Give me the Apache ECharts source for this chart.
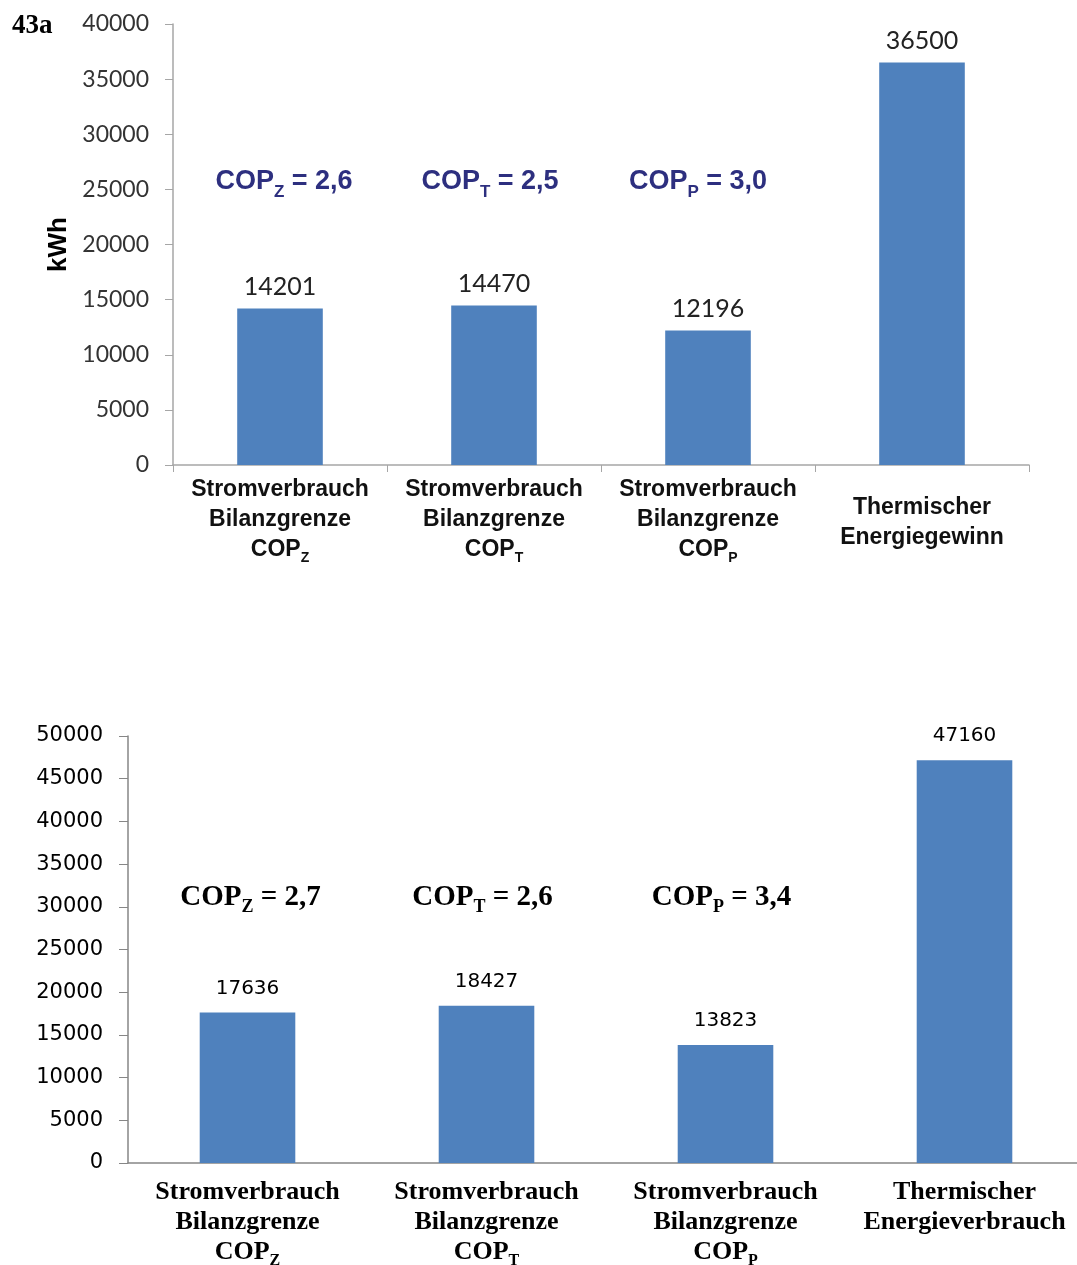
<!DOCTYPE html>
<html>
<head>
<meta charset="utf-8">
<script src="https://cdn.jsdelivr.net/npm/echarts@6/dist/echarts.min.js"></script>
<style>
  html, body { margin: 0; padding: 0; background: #fff; }
  #main { width: 1077px; height: 1265px; }
</style>
</head>
<body>
<div id="main"></div>
<script>
var chart = echarts.init(document.getElementById('main'));

// data
var subs = ['Z', 'T', 'P'];
var topValues = [14201, 14470, 12196, 36500];
var topLast = ['Thermischer', 'Energiegewinn'];
var topCop = ['2,6', '2,5', '3,0'];
var topCopLevel = 25700;
var topTicks = { min: 0, max: 40000, interval: 5000 };

var botValues = [17636, 18427, 13823, 47160];
var botLast = ['Thermischer', 'Energieverbrauch'];
var botCop = ['2,7', '2,6', '3,4'];
var botCopLevel = 31100;
var botTicks = { min: 0, max: 50000, interval: 5000 };

var cats = ['c0', 'c1', 'c2', 'c3'];

// small horizontal nudges of the COP notes (px)
var topCopShift = [4, -4, -10];
var botCopShift = [3, -4, -4];

var navy = '#2d2f7f';
var barColor = '#4f81bd';

function catLabel(last, tall) {
    return function (v, i) {
        if (i < 3) {
            return '{b|Stromverbrauch}\n{b|Bilanzgrenze}\n{b|COP}{s|' + subs[i] + '}';
        }
        return (tall ? '{g| }\n' : '') + '{b|' + last[0] + '}\n{b|' + last[1] + '}';
    };
}

function copPoints(vals, level, shift) {
    return vals.map(function (v, i) {
        return { coord: [cats[i], level], value: v, sub: subs[i], label: { offset: [shift[i], 0] } };
    });
}

function plain(v) { return String(v); }

var option = {
    animation: false,
    grid: [
        { left: 173, top: 24, width: 856, height: 441, outerBoundsMode: 'none' },
        { left: 128, top: 736, width: 956, height: 427, outerBoundsMode: 'none' }
    ],
    graphic: [{
        type: 'text', left: 12, top: 13,
        style: { text: '43a', font: 'bold 27px "Liberation Serif"', fill: '#000' }
    }],
    xAxis: [{
        gridIndex: 0, type: 'category', data: cats,
        axisLine: { lineStyle: { color: '#a6a6a6', width: 1.5 } },
        axisTick: { show: true, length: 7, lineStyle: { color: '#a6a6a6' } },
        axisLabel: {
            margin: 10, interval: 0,
            formatter: catLabel(topLast, true),
            rich: {
                b: { fontFamily: '"Liberation Sans"', fontWeight: 'bold', fontSize: 23, lineHeight: 30, color: '#111' },
                g: { fontSize: 2, lineHeight: 18 },
                s: { fontFamily: '"Liberation Sans"', fontWeight: 'bold', fontSize: 14, lineHeight: 14, color: '#111', verticalAlign: 'top', padding: [16, 0, 0, 0] }
            }
        }
    }, {
        gridIndex: 1, type: 'category', data: cats,
        axisLine: { lineStyle: { color: '#868686', width: 1.5 } },
        axisTick: { show: false },
        axisLabel: {
            margin: 14, interval: 0,
            formatter: catLabel(botLast, false),
            rich: {
                b: { fontFamily: '"Liberation Serif"', fontWeight: 'bold', fontSize: 26, lineHeight: 30, color: '#000' },
                s: { fontFamily: '"Liberation Serif"', fontWeight: 'bold', fontSize: 16, lineHeight: 16, color: '#000', verticalAlign: 'top', padding: [16, 0, 0, 0] }
            }
        }
    }],
    yAxis: [{
        gridIndex: 0, type: 'value',
        min: topTicks.min, max: topTicks.max, interval: topTicks.interval,
        name: 'kWh', nameLocation: 'middle', nameRotate: 90, nameGap: 96,
        nameTextStyle: { fontFamily: '"Liberation Sans"', fontWeight: 'bold', fontSize: 26, color: '#000' },
        splitLine: { show: false },
        axisLine: { show: true, lineStyle: { color: '#a6a6a6', width: 1.5 } },
        axisTick: { show: true, length: 8, lineStyle: { color: '#a6a6a6' } },
        axisLabel: { margin: 24, fontFamily: 'Lato', fontSize: 23, color: '#333', formatter: plain }
    }, {
        gridIndex: 1, type: 'value',
        min: botTicks.min, max: botTicks.max, interval: botTicks.interval,
        splitLine: { show: false },
        axisLine: { show: true, lineStyle: { color: '#868686', width: 1.5 } },
        axisTick: { show: true, length: 9, lineStyle: { color: '#868686' } },
        axisLabel: { margin: 25, fontFamily: '"DejaVu Sans"', fontSize: 21, color: '#000', formatter: plain }
    }],
    series: [{
        type: 'bar', xAxisIndex: 0, yAxisIndex: 0,
        data: topValues, barWidth: '40%',
        itemStyle: { color: barColor },
        label: { show: true, position: 'top', distance: 9, fontFamily: 'Lato', fontSize: 25, color: '#222' },
        markPoint: {
            symbol: 'circle', symbolSize: 0,
            data: copPoints(topCop, topCopLevel, topCopShift),
            label: {
                show: true, position: 'inside',
                formatter: function (p) { return '{a|COP}{s|' + p.data.sub + '}{a| = ' + p.data.value + '}'; },
                rich: {
                    a: { fontFamily: '"Liberation Sans"', fontWeight: 'bold', fontSize: 27, lineHeight: 30, color: navy },
                    s: { fontFamily: '"Liberation Sans"', fontWeight: 'bold', fontSize: 17, lineHeight: 17, color: navy, verticalAlign: 'top', padding: [17, 0, 0, 0] }
                }
            }
        }
    }, {
        type: 'bar', xAxisIndex: 1, yAxisIndex: 1,
        data: botValues, barWidth: '40%',
        itemStyle: { color: barColor },
        label: { show: true, position: 'top', distance: 14, fontFamily: '"DejaVu Sans"', fontSize: 20, color: '#000' },
        markPoint: {
            symbol: 'circle', symbolSize: 0,
            data: copPoints(botCop, botCopLevel, botCopShift),
            label: {
                show: true, position: 'inside',
                formatter: function (p) { return '{a|COP}{s|' + p.data.sub + '}{a| = ' + p.data.value + '}'; },
                rich: {
                    a: { fontFamily: '"Liberation Serif"', fontWeight: 'bold', fontSize: 29, lineHeight: 32, color: '#000' },
                    s: { fontFamily: '"Liberation Serif"', fontWeight: 'bold', fontSize: 18, lineHeight: 18, color: '#000', verticalAlign: 'top', padding: [17, 0, 0, 0] }
                }
            }
        }
    }]
};

chart.setOption(option);
window.onresize = chart.resize;
</script>
</body>
</html>
